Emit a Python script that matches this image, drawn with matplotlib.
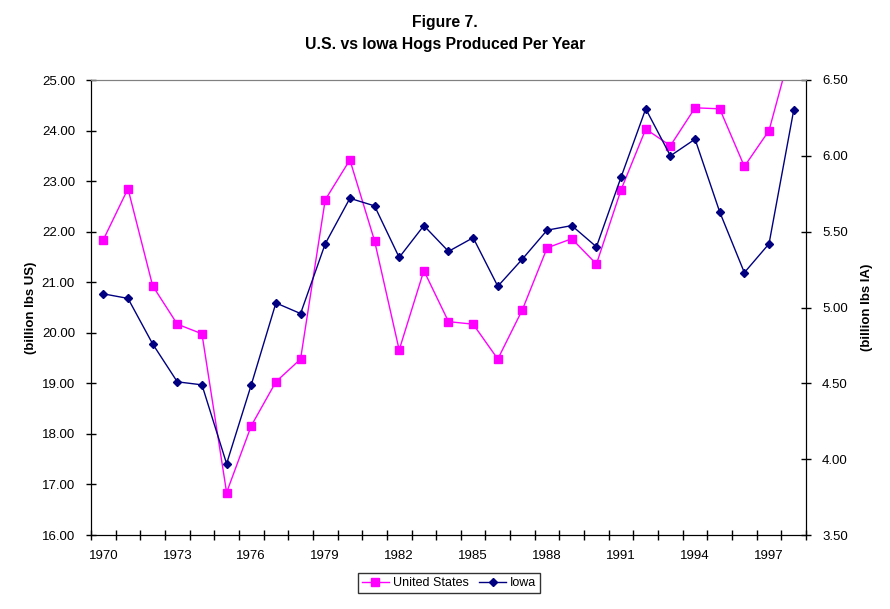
import numpy as np
import matplotlib
matplotlib.use("Agg")
import matplotlib.pyplot as plt
from matplotlib.lines import Line2D

plt.rcParams["font.family"] = ["Liberation Sans", "DejaVu Sans"]

years = list(range(1970, 1999))
us_blbs = [21.84, 22.85, 20.93, 20.17, 19.98, 16.84, 18.16, 19.03, 19.48, 22.63,
           23.42, 21.82, 19.66, 21.23, 20.22, 20.17, 19.48, 20.46, 21.68, 21.86,
           21.36, 22.83, 24.03, 23.70, 24.45, 24.43, 23.29, 24.00, 25.80]
iowa_blbs = [5.09, 5.06, 4.76, 4.51, 4.49, 3.97, 4.49, 5.03, 4.96, 5.42,
             5.72, 5.67, 5.33, 5.54, 5.37, 5.46, 5.14, 5.32, 5.51, 5.54,
             5.40, 5.86, 6.31, 6.00, 6.11, 5.63, 5.23, 5.42, 6.30]
label_years = years[::3]

US_COLOR = "#FF00FF"
IA_COLOR = "#000080"
TICK_FS = 9.5

fig = plt.figure(figsize=(8.9, 6.09), dpi=100)
ax = fig.add_axes([91 / 890, 74 / 609, 715 / 890, 455 / 609])
ax2 = ax.twinx()

x = np.arange(len(years))
ax.plot(x, us_blbs, color=US_COLOR, linewidth=1.0, marker="s", markersize=5.5,
        markeredgecolor=US_COLOR, markerfacecolor=US_COLOR)
ax2.plot(x, iowa_blbs, color=IA_COLOR, linewidth=1.0, marker="D", markersize=4.5,
         markeredgecolor=IA_COLOR, markerfacecolor=IA_COLOR)

ax.set_xlim(-0.5, len(years) - 0.5)
ax.set_ylim(16, 25)
ax2.set_ylim(3.5, 6.5)

# category boundaries carry the tick marks, labels sit under the points
ax.set_xticks(np.arange(-0.5, len(years), 1.0))
ax.set_xticklabels([])
ax.set_xticks([years.index(y) for y in label_years], minor=True)
ax.set_xticklabels([str(y) for y in label_years], minor=True)
ax.tick_params(axis="x", which="major", direction="inout", length=7, width=1)
ax.tick_params(axis="x", which="minor", length=0, pad=11, labelsize=TICK_FS)

ax.set_yticks(np.arange(16, 25.01, 1))
ax.set_yticklabels([f"{v:.2f}" for v in np.arange(16, 25.01, 1)])
ax.tick_params(axis="y", direction="inout", length=7, width=1, labelsize=TICK_FS, pad=8)
ax2.set_yticks(np.arange(3.5, 6.51, 0.5))
ax2.set_yticklabels([f"{v:.2f}" for v in np.arange(3.5, 6.51, 0.5)])
ax2.tick_params(axis="y", direction="inout", length=7, width=1, labelsize=TICK_FS, pad=8)

for a in (ax, ax2):
    a.spines["top"].set_color("#808080")
    a.spines["left"].set_color("black")
    a.spines["right"].set_color("black")
    a.spines["bottom"].set_color("black")

ax.set_ylabel("(billion lbs US)", fontsize=9.5, fontweight="bold")
ax2.set_ylabel("(billion lbs IA)", fontsize=9.5, fontweight="bold", rotation=90)
ax.yaxis.set_label_coords(-0.0755, 0.5)
ax2.yaxis.set_label_coords(1.0765, 0.5)

fig.text(0.5, 1 - 22 / 609, "Figure 7.", ha="center", va="center",
         fontsize=11.3, fontweight="bold")
fig.text(0.5, 1 - 44 / 609, "U.S. vs Iowa Hogs Produced Per Year", ha="center",
         va="center", fontsize=11.3, fontweight="bold")

handles = [
    Line2D([], [], color=US_COLOR, linewidth=1.0, marker="s", markersize=5.5),
    Line2D([], [], color=IA_COLOR, linewidth=1.0, marker="D", markersize=4.5),
]
leg = fig.legend(handles, ["United States", "Iowa"], loc="center",
                 bbox_to_anchor=(449 / 890, 1 - 583 / 609), ncol=2, fontsize=9,
                 frameon=True, fancybox=False, handlelength=2.2, handletextpad=0.3,
                 columnspacing=0.8, borderpad=0.3)
leg.get_frame().set_edgecolor("black")
leg.get_frame().set_linewidth(1.0)

fig.savefig("out.png", dpi=100)
